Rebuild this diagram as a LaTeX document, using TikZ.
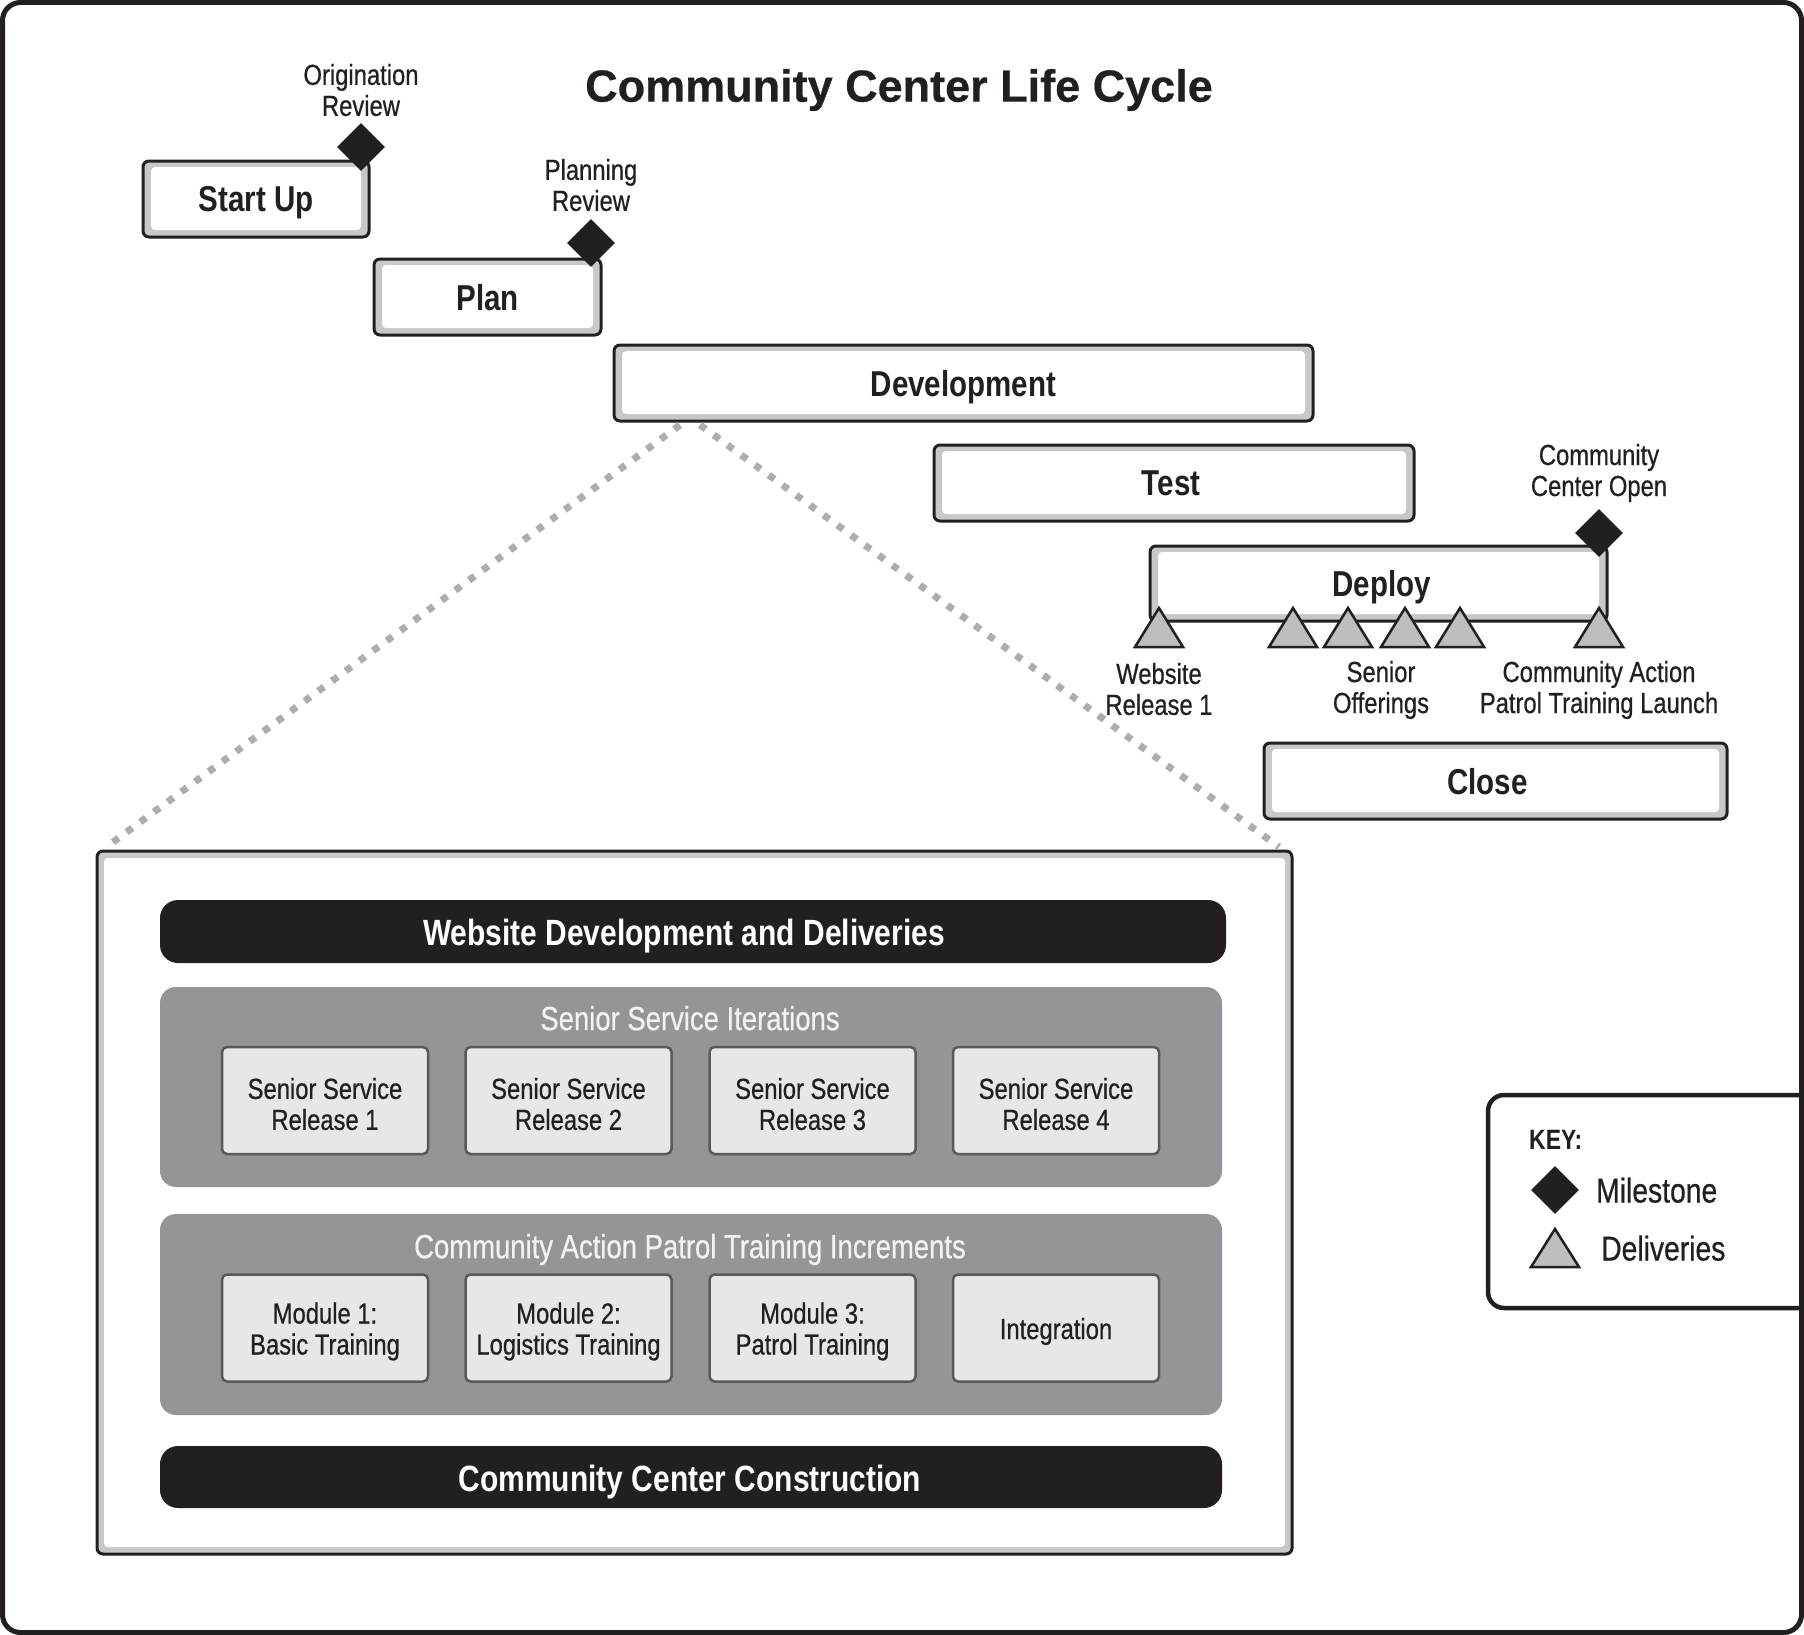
\documentclass[tikz,border=0pt]{standalone}
\usepackage{fontspec}
\setmainfont{Liberation Sans}[FakeStretch=0.82, UprightFeatures={FakeBold=0.6}]
\newfontfamily\titlefont{Liberation Sans}[FakeBold=0.5]
\usetikzlibrary{shapes.geometric}
\definecolor{dark}{HTML}{231F20}
\definecolor{band}{HTML}{C7C8CA}
\definecolor{panelgray}{HTML}{939598}
\definecolor{boxfill}{HTML}{E6E7E8}
\definecolor{boxline}{HTML}{58595B}
\definecolor{trifill}{HTML}{BCBEC0}
\definecolor{dotgray}{HTML}{ABADB0}
\definecolor{paneltext}{HTML}{F1F2F2}
\tikzset{
 phaseout/.style={draw=dark, line width=3pt, fill=band, rounded corners=6pt, inner sep=0pt, outer sep=0pt},
 phaseinner/.style={fill=white, rounded corners=4pt},
 phaselbl/.style={font=\fontsize{36}{40}\selectfont\bfseries, text=dark, inner sep=0pt, text depth=0pt},
 mslbl/.style={font=\fontsize{29}{31}\selectfont, text=dark, align=center, inner sep=0pt},
 milestone/.style={diamond, fill=dark, minimum width=48pt, minimum height=48pt, inner sep=0pt},
 tri/.style={fill=trifill, draw=dark, line width=2.5pt, line join=miter},
 dotline/.style={draw=dotgray, line width=7pt, dash pattern=on 7pt off 10pt},
 bar/.style={fill=dark, rounded corners=18pt, inner sep=0pt, outer sep=0pt},
 bartext/.style={font=\fontsize{36.5}{40}\selectfont\bfseries, text=white, inner sep=0pt, text depth=0pt},
 panel/.style={fill=panelgray, rounded corners=16pt, inner sep=0pt, outer sep=0pt},
 paneltitle/.style={font=\fontsize{33.5}{36}\selectfont, text=paneltext, inner sep=0pt, text depth=0pt},
 item/.style={fill=boxfill, draw=boxline, line width=2.5pt, rounded corners=5pt, inner sep=0pt, minimum width=206pt, minimum height=107pt},
 itemtext/.style={font=\fontsize{29}{31}\selectfont, text=dark, align=center, inner sep=0pt, yshift=-3.5pt},
 keytext/.style={font=\fontsize{34.5}{38}\selectfont, text=dark, anchor=west, inner sep=0pt, text depth=0pt},
}
\newcommand\PhaseBox[7]{%
 \node[phaseout, minimum width=#4pt, minimum height=#5pt] (#1) at (#2,#3) {};
 \fill[phaseinner] ([xshift=8pt,yshift=-6pt]#1.north west) rectangle ([xshift=-8pt,yshift=7pt]#1.south east);
 \node[phaselbl, xshift=#7pt] (#1-lbl) at (#1.center) {#6};}
\newcommand\Deliv[2]{\filldraw[tri] ({#1-24},#2) -- (#1,{#2-39}) -- ({#1+24},#2) -- cycle;}
\begin{document}
\begin{tikzpicture}[x=1pt,y=-1pt]
\useasboundingbox (0,0) rectangle (1804,1635);
\fill[white] (0,0) rectangle (1804,1635);

% title
\node[font=\titlefont\fontsize{45}{54}\selectfont\bfseries, text=dark, inner sep=0pt] (title) at (899,90) {Community Center Life Cycle};

% phases
\PhaseBox{startup}{256}{199}{226}{76}{Start Up}{0}
\PhaseBox{plan}{487.5}{297}{227}{76}{Plan}{0}
\PhaseBox{dev}{963.5}{383}{699}{76}{Development}{0}
\PhaseBox{test}{1174}{483}{480}{76}{Test}{-3}
\PhaseBox{deploy}{1378.5}{583.5}{457}{75}{Deploy}{3}
\PhaseBox{close}{1495.5}{781}{463}{76}{Close}{-8}

% milestones
\node[milestone] (ms1) at (361,147) {};
\node[milestone] (ms2) at (591,243) {};
\node[milestone] (ms3) at (1599,533) {};
\node[mslbl] (ms1-lbl) at (361,90) {Origination\\Review};
\node[mslbl] (ms2-lbl) at (591,185) {Planning\\Review};
\node[mslbl] (ms3-lbl) at (1599,473) {Community\\Center Open};

% deliveries
\Deliv{1159}{647}
\Deliv{1293}{647}
\Deliv{1348}{647}
\Deliv{1405}{647}
\Deliv{1460}{647}
\Deliv{1599}{647}
\node[mslbl] (d1-lbl) at (1159,689) {Website\\Release 1};
\node[mslbl] (d2-lbl) at (1381,690) {Senior\\Offerings};
\node[mslbl] (d3-lbl) at (1599,690) {Community Action\\Patrol Training Launch};

% zoom box
\node[phaseout, minimum width=1195pt, minimum height=703pt] (zoom) at (694.5,1202.5) {};
\fill[phaseinner] ([xshift=7pt,yshift=-7pt]zoom.north west) rectangle ([xshift=-7pt,yshift=7pt]zoom.south east);
\draw[dotline] ([xshift=66pt,yshift=-4pt]dev.south west) -- ([xshift=12pt,yshift=6pt]zoom.north west);
\draw[dotline] ([xshift=86pt,yshift=-4pt]dev.south west) -- ([xshift=-13pt,yshift=4pt]zoom.north east);

% bars and panels
\node[bar, minimum width=1066pt, minimum height=63pt] (wdd) at (693,931.5) {};
\node[bartext] (wdd-lbl) at (684,932) {Website Development and Deliveries};
\node[panel, minimum width=1062pt, minimum height=200pt] (ssi) at (691,1087) {};
\node[paneltitle] (ssi-lbl) at (690,1018) {Senior Service Iterations};
\node[panel, minimum width=1062pt, minimum height=201pt] (capt) at (691,1314.5) {};
\node[paneltitle] (capt-lbl) at (690,1246) {Community Action Patrol Training Increments};
\node[bar, minimum width=1062pt, minimum height=62pt] (ccc) at (691,1477) {};
\node[bartext] (ccc-lbl) at (690,1478) {Community Center Construction};

% items
\node[item] (s1) at (325,1100.5) {};
\node[item] (s2) at (568.5,1100.5) {};
\node[item] (s3) at (812.5,1100.5) {};
\node[item] (s4) at (1056,1100.5) {};
\node[itemtext] (s1-lbl) at (s1) {Senior Service\\Release 1};
\node[itemtext] (s2-lbl) at (s2) {Senior Service\\Release 2};
\node[itemtext] (s3-lbl) at (s3) {Senior Service\\Release 3};
\node[itemtext] (s4-lbl) at (s4) {Senior Service\\Release 4};
\node[item] (m1) at (325,1328) {};
\node[item] (m2) at (568.5,1328) {};
\node[item] (m3) at (812.5,1328) {};
\node[item] (m4) at (1056,1328) {};
\node[itemtext] (m1-lbl) at (m1) {Module 1:\\Basic Training};
\node[itemtext] (m2-lbl) at (m2) {Module 2:\\Logistics Training};
\node[itemtext] (m3-lbl) at (m3) {Module 3:\\Patrol Training};
\node[itemtext] (m4-lbl) at (m4) {Integration};

% key
\filldraw[fill=white, draw=dark, line width=4.5pt, rounded corners=16pt] (1802,1095) -- (1488,1095) -- (1488,1308) -- (1802,1308);
\node[keytext, font=\fontsize{28}{32}\selectfont\bfseries] (key) at (1529,1140) {KEY:};
\node[milestone] (key-ms) at (1555,1190) {};
\node[keytext] (key-ms-lbl) at (1596,1190) {Milestone};
\filldraw[tri] (1531,1267) -- (1555,1229) -- (1579,1267) -- cycle;
\node[keytext] (key-d-lbl) at (1601,1248) {Deliveries};

% frame
\draw[dark, line width=5pt, rounded corners=18pt] (2.5,2.5) rectangle (1801.5,1632.5);
\end{tikzpicture}
\end{document}
